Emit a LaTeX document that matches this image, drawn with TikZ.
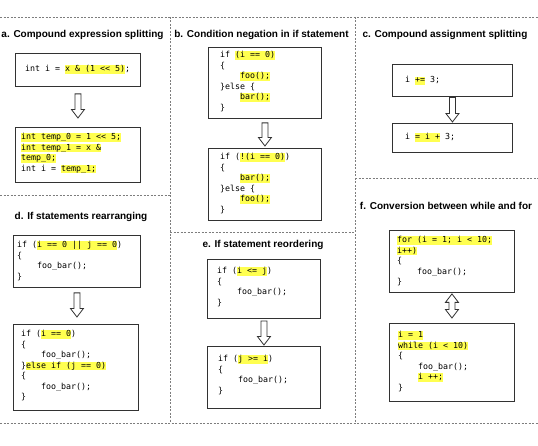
\documentclass[tikz,border=0pt]{standalone}
\usepackage{fontspec}
\setmainfont{Liberation Sans}
\newfontfamily\codefont{DejaVu Sans Mono}
\usetikzlibrary{calc}
\definecolor{hly}{RGB}{255,255,80}
\definecolor{sepc}{RGB}{125,125,125}
\definecolor{bx}{RGB}{50,50,50}
\newcommand\hl[1]{{\setlength{\fboxsep}{0pt}\colorbox{hly}{\rule[-2.3pt]{0pt}{8.2pt}#1}}}
\newcommand\ls{\rule[-2.3pt]{0pt}{8.2pt}}
\newcommand\ind{\hphantom{xxxx}}
\newcommand\blkdown[2]{\draw[blk] let \p1=(#1), \p2=(#2) in
  (\x1-3pt,\y1) -- (\x1+3pt,\y1) -- (\x1+3pt,\y2+8.5pt) -- (\x1+6.5pt,\y2+8.5pt) -- (\x1,\y2)
  -- (\x1-6.5pt,\y2+8.5pt) -- (\x1-3pt,\y2+8.5pt) -- cycle;}
\newcommand\blkboth[2]{\draw[blk] let \p1=(#1), \p2=(#2) in
  (\x1,\y1) -- (\x1+6.5pt,\y1-8.5pt) -- (\x1+3pt,\y1-8.5pt) -- (\x1+3pt,\y2+8.5pt) -- (\x1+6.5pt,\y2+8.5pt)
  -- (\x1,\y2) -- (\x1-6.5pt,\y2+8.5pt) -- (\x1-3pt,\y2+8.5pt) -- (\x1-3pt,\y1-8.5pt) -- (\x1-6.5pt,\y1-8.5pt) -- cycle;}
\begin{document}
\begin{tikzpicture}[x=1pt,y=-1pt,
  sepline/.style={draw=sepc, line width=0.8pt, dash pattern=on 2pt off 1.5pt},
  box/.style={draw=bx, line width=0.9pt, anchor=north west, inner sep=0pt},
  code/.style={font=\codefont\fontsize{8.3}{10.5}\selectfont, align=left, inner sep=0pt, anchor=north west},
  ttl/.style={font=\bfseries\fontsize{10}{12}\selectfont, anchor=base, inner sep=0pt},
  blk/.style={draw=bx, line width=0.8pt, fill=white, line join=miter}]
\useasboundingbox (0,0) rectangle (538,446);
% separators
\draw[sepline] (0,17) -- (538,17);
\draw[sepline] (170,17) -- (170,423);
\draw[sepline] (355,17) -- (355,423);
\draw[sepline] (0,195) -- (170,195);
\draw[sepline] (170,232) -- (355,232);
\draw[sepline] (355,178) -- (538,178);
\draw[sepline] (0,423) -- (538,423);
% titles
\node[ttl] (ta) at (82.5,38) {a. Compound expression splitting};
\node[ttl] (tb) at (261.5,38) {b. Condition negation in if statement};
\node[ttl] (tc) at (445,38) {c. Compound assignment splitting};
\node[ttl] (td) at (81,220) {d. If statements rearranging};
\node[ttl] (te) at (263,248) {e. If statement reordering};
\node[ttl] (tf) at (446,210) {f. Conversion between while and for};
% boxes
\node[box, minimum width=125pt, minimum height=33pt] (a1) at (15,53) {};
\node[box, minimum width=125pt, minimum height=55pt] (a2) at (15,127) {};
\node[box, minimum width=113pt, minimum height=71pt] (b1) at (208,47) {};
\node[box, minimum width=113pt, minimum height=72pt] (b2) at (208,148) {};
\node[box, minimum width=120pt, minimum height=32pt] (c1) at (392,64) {};
\node[box, minimum width=120pt, minimum height=29pt] (c2) at (392,123) {};
\node[box, minimum width=127pt, minimum height=52pt] (d1) at (13,235) {};
\node[box, minimum width=125pt, minimum height=86pt] (d2) at (13,324) {};
\node[box, minimum width=113pt, minimum height=59pt] (e1) at (207,259) {};
\node[box, minimum width=113pt, minimum height=62pt] (e2) at (207,346) {};
\node[box, minimum width=125pt, minimum height=62pt] (f1) at (389,230) {};
\node[box, minimum width=125pt, minimum height=78pt] (f2) at (389,323) {};
% code
\node[code] (a1t) at (25,65) {\ls int i = \hl{x \& (1 << 5)};};
\node[code] (a2t) at (21,133) {\ls\hl{int temp\_0 = 1 << 5;}\\
\ls\hl{int temp\_1 = x \&}\\
\ls\hl{temp\_0;}\\
\ls int i = \hl{temp\_1;}};
\node[code] (b1t) at (220,51) {\ls if \hl{(i == 0)}\\
\ls\{\\
\ls\ind\hl{foo();}\\
\ls\}else \{\\
\ls\ind\hl{bar();}\\
\ls\}};
\node[code] (b2t) at (220,153) {\ls if (\hl{!(i == 0)})\\
\ls\{\\
\ls\ind\hl{bar();}\\
\ls\}else \{\\
\ls\ind\hl{foo();}\\
\ls\}};
\node[code] (c1t) at (405,76) {\ls i \hl{+=} 3;};
\node[code] (c2t) at (405,133) {\ls i \hl{= i +} 3;};
\node[code] (d1t) at (17,241) {\ls if (\hl{i == 0 || j == 0})\\
\ls\{\\
\ls\ind foo\_bar();\\
\ls\}};
\node[code] (d2t) at (21,330) {\ls if (\hl{i == 0})\\
\ls\{\\
\ls\ind foo\_bar();\\
\ls\}\hl{else if (j == 0)}\\
\ls\{\\
\ls\ind foo\_bar();\\
\ls\}};
\node[code] (e1t) at (217,267) {\ls if (\hl{i <= j})\\
\ls\{\\
\ls\ind foo\_bar();\\
\ls\}};
\node[code] (e2t) at (218,355) {\ls if (\hl{j >= i})\\
\ls\{\\
\ls\ind foo\_bar();\\
\ls\}};
\node[code] (f1t) at (397,236) {\ls\hl{for (i = 1; i < 10;}\\
\ls\hl{i++)}\\
\ls\{\\
\ls\ind foo\_bar();\\
\ls\}};
\node[code] (f2t) at (398,331) {\ls\hl{i = 1}\\
\ls\hl{while (i < 10)}\\
\ls\{\\
\ls\ind foo\_bar();\\
\ls\ind\hl{i ++;}\\
\ls\}};
% block arrows
\coordinate (aT) at ($(a1.south)+(0,7)$);
\coordinate (aB) at ($(a2.north)+(0,-9)$);
\blkdown{aT}{aB}
\coordinate (bT) at ($(b1.south)+(0,4)$);
\coordinate (bB) at ($(b2.north)+(0,-2)$);
\blkdown{bT}{bB}
\coordinate (cT) at ($(c1.south)+(0,0.5)$);
\coordinate (cB) at ($(c2.north)+(0,-1)$);
\blkdown{cT}{cB}
\coordinate (dT) at ($(d1.south)+(0,5)$);
\coordinate (dB) at ($(d2.north)+(0,-7)$);
\blkdown{dT}{dB}
\coordinate (eT) at ($(e1.south)+(0,2)$);
\coordinate (eB) at ($(e2.north)+(0,-1)$);
\blkdown{eT}{eB}
\coordinate (fT) at ($(f1.south)+(0,1)$);
\coordinate (fB) at ($(f2.north)+(0,-5)$);
\blkboth{fT}{fB}
\end{tikzpicture}
\end{document}
